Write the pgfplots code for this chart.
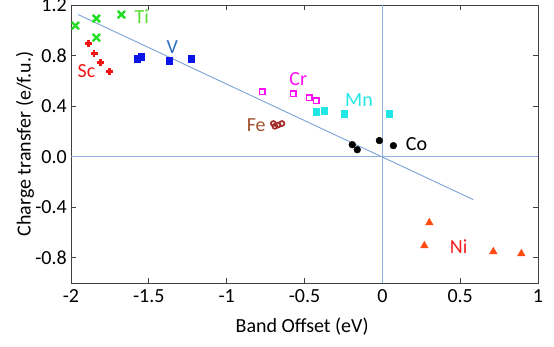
\documentclass[border=0pt]{standalone}
\usepackage{pgfplots}
\pgfplotsset{compat=1.18}
\usepackage{fontspec}
\setmainfont{Carlito}
\definecolor{axgray}{HTML}{404040}
\definecolor{refblue}{HTML}{8FB0DF}
\definecolor{fitblue}{HTML}{7AA2D6}
\definecolor{tigreen}{HTML}{22DD22}
\definecolor{tilab}{HTML}{55DD33}
\definecolor{scred}{HTML}{F01515}
\definecolor{vblue}{HTML}{0A14E8}
\definecolor{vlab}{HTML}{2F6FC0}
\definecolor{crmag}{HTML}{FF10F0}
\definecolor{mncyan}{HTML}{20E6E6}
\definecolor{febrown}{HTML}{A52A2A}
\definecolor{felab}{HTML}{A0522D}
\definecolor{niorange}{HTML}{FF4A10}
\definecolor{nilab}{HTML}{F02020}
\begin{document}
\begin{tikzpicture}
\begin{axis}[
  scale only axis,
  width=467pt, height=278pt,
  xmin=-2, xmax=1, ymin=-1.0, ymax=1.2,
  xtick={-2,-1.5,-1,-0.5,0,0.5,1},
  ytick={-0.8,-0.4,0,0.4,0.8,1.2},
  yticklabel style={/pgf/number format/fixed,/pgf/number format/precision=1,/pgf/number format/fixed zerofill, inner sep=2pt, xshift=-2pt},
  xticklabel style={inner sep=2pt, yshift=-4pt},
  /pgf/number format/assume math mode=true,
  tick align=inside,
  major tick length=5pt,
  axis line style={axgray, line width=0.9pt},
  tick style={axgray, line width=0.9pt},
  font=\fontsize{20}{23}\selectfont,
  xlabel={Band Offset (eV)},
  ylabel={Charge transfer (e/f.u.)},
  xlabel style={at={(axis description cs:0.495,-0.158)}, anchor=center},
  ylabel style={at={(axis description cs:-0.0985,0.5)}, anchor=center},
  clip=false,
]
% reference lines
\addplot[refblue, line width=1pt] coordinates {(0,-1.0) (0,1.2)};
\addplot[refblue, line width=1pt] coordinates {(-2,0) (1,0)};
% fit line
\addplot[fitblue, line width=0.9pt] coordinates {(-1.953,1.124) (0.584,-0.340)};
% Ti
\addplot[only marks, mark=x, mark size=5.2pt, tigreen, line width=2.4pt] coordinates {
(-1.972,1.037) (-1.837,1.093) (-1.676,1.124) (-1.837,0.942)};
% Sc
\addplot[only marks, mark=+, mark size=3.8pt, scred, line width=2.3pt] coordinates {
(-1.888,0.895) (-1.850,0.816) (-1.811,0.744) (-1.753,0.673)};
% V
\addplot[only marks, mark=square*, mark size=3.3pt, vblue] coordinates {
(-1.574,0.776) (-1.548,0.792) (-1.368,0.760) (-1.227,0.776)};
% Cr
\addplot[only marks, mark=square, mark size=2.8pt, crmag, line width=1.6pt] coordinates {
(-0.771,0.515) (-0.572,0.499) (-0.469,0.467) (-0.424,0.443)};
% Mn
\addplot[only marks, mark=square*, mark size=3.3pt, mncyan] coordinates {
(-0.424,0.356) (-0.373,0.364) (-0.244,0.340) (0.045,0.340)};
% Fe
\addplot[only marks, mark=o, mark size=2.5pt, febrown, line width=1.7pt] coordinates {
(-0.700,0.262) (-0.670,0.250) (-0.645,0.262) (-0.690,0.240)};
% Co
\addplot[only marks, mark=*, mark size=3.4pt, black] coordinates {
(-0.193,0.095) (-0.161,0.055) (-0.019,0.127) (0.071,0.087)};
% Ni
\addplot[only marks, mark=triangle*, mark size=4.4pt, niorange] coordinates {
(0.302,-0.523) (0.270,-0.705) (0.713,-0.752) (0.893,-0.768)};
% labels
\node[tilab] at (axis cs:-1.545,1.11) {Ti};
\node[scred] at (axis cs:-1.90,0.68) {Sc};
\node[vlab] at (axis cs:-1.35,0.87) {V};
\node[crmag] at (axis cs:-0.54,0.61) {Cr};
\node[mncyan] at (axis cs:-0.15,0.45) {Mn};
\node[felab] at (axis cs:-0.81,0.25) {Fe};
\node[black] at (axis cs:0.22,0.10) {Co};
\node[nilab] at (axis cs:0.49,-0.71) {Ni};
\end{axis}
\pgfresetboundingbox
\path[use as bounding box] (current axis.south west) ++(-71pt,-63pt) rectangle ++(554pt,346pt);
\end{tikzpicture}
\end{document}
